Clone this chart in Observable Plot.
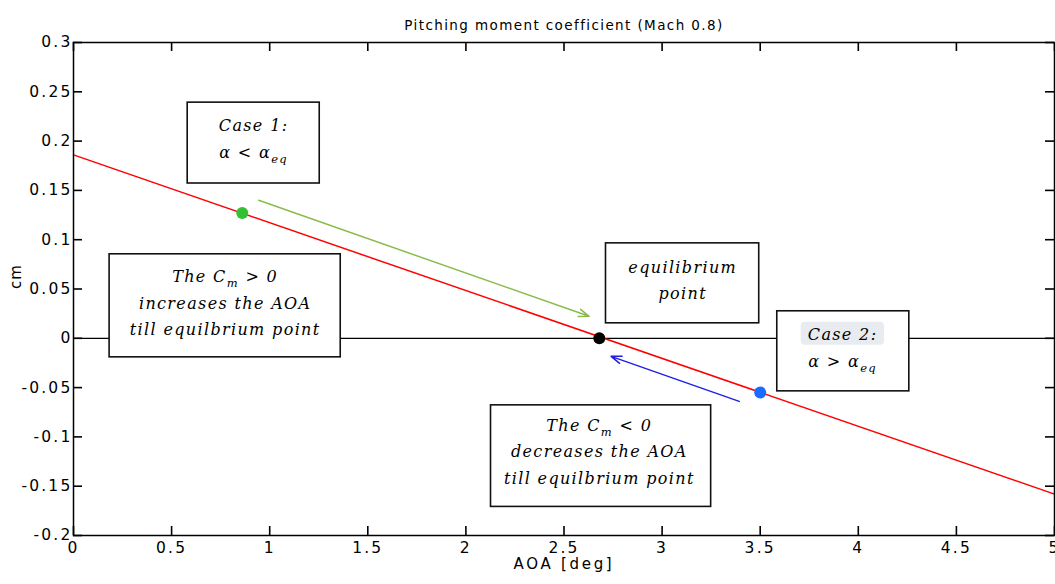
<!DOCTYPE html>
<html>
<head>
<meta charset="utf-8">
<script src="https://cdn.jsdelivr.net/npm/d3@7"></script>
<script src="https://cdn.jsdelivr.net/npm/@observablehq/plot@0.6"></script>
<style>
  html, body { margin: 0; padding: 0; background: #fff; }
  #chart { width: 1055px; height: 584px; }
  .notes text { letter-spacing: 1.35px; }
  .ttl text { letter-spacing: 1.4px; }
  .xlab text { letter-spacing: 2.7px; }
  .ylab text { letter-spacing: 1px; }
  g[aria-label="y-axis tick label"] text, g[aria-label="x-axis tick label"] text { letter-spacing: 2.2px; font-size: 15.5px; }
</style>
</head>
<body>
<div id="chart"></div>
<script>
// ---- data ----
const lineAOA = [0, 5];
const lineCm = [0.186, -0.158];

const pointAOA = [0.86, 2.68, 3.5];
const pointCm = [0.127, 0.0, -0.055];
const pointColor = ["#33c133", "#000000", "#1a6cff"];

const arrowX1 = [0.944, 3.393];
const arrowY1 = [0.140, -0.064];
const arrowX2 = [2.628, 2.740];
const arrowY2 = [0.0223, -0.0183];
const arrowColor = ["#8bbb4c", "#1f1fe6"];

const boxX1 = [0.582, 0.184, 2.714, 3.587, 2.128];
const boxX2 = [1.255, 1.362, 3.495, 4.260, 3.250];
const boxY1 = [0.157, -0.0193, 0.0152, -0.0538, -0.171];
const boxY2 = [0.239, 0.0852, 0.0963, 0.0274, -0.068];

const noteX = [0.918, 0.773, 3.105, 3.92, 2.68];
const noteY = [0.205, 0.0385, 0.0614, -0.007, -0.112];
const noteText = [
  "Case 1:\nα < α_{eq}",
  "The C_{m} > 0\nincreases the AOA\ntill equilbrium point",
  "equilibrium\npoint",
  "Case 2:\nα > α_{eq}",
  "The C_{m} < 0\ndecreases the AOA\ntill equilbrium point"
];

const highlightX = [3.709, 4.133];
const highlightY = [-0.0071, 0.0162];

const xTicks = [0, 0.5, 1, 1.5, 2, 2.5, 3, 3.5, 4, 4.5, 5];
const yTicks = [-0.2, -0.15, -0.1, -0.05, 0, 0.05, 0.1, 0.15, 0.2, 0.25, 0.3];

const titleText = "Pitching moment coefficient (Mach 0.8)";
const xLabel = "AOA [deg]";
const yLabel = "cm";

// ---- build tables ----
const W = 1055, H = 584, mL = 73, mR = 1, mT = 42, mB = 49, tickLen = 9;
const frameW = W - mL - mR, frameH = H - mT - mB;
const lineData = lineAOA.map((x, i) => ({x, y: lineCm[i]}));
const points = pointAOA.map((x, i) => ({x, y: pointCm[i], c: pointColor[i]}));
const arrows = arrowX1.map((x1, i) => ({x1, y1: arrowY1[i], x2: arrowX2[i], y2: arrowY2[i], c: arrowColor[i]}));
const boxes = boxX1.map((x1, i) => ({x1, x2: boxX2[i], y1: boxY1[i], y2: boxY2[i]}));
const notes = noteX.map((x, i) => ({x, y: noteY[i], t: noteText[i]}));
const fmt = d => String(d);

const plot = Plot.plot({
  width: W,
  height: H,
  marginLeft: mL,
  marginRight: mR,
  marginTop: mT,
  marginBottom: mB,
  style: {fontFamily: "DejaVu Sans", fontSize: "15px", color: "#000", background: "#fff"},
  x: {domain: [0, 5]},
  y: {domain: [-0.2, 0.3]},
  marks: [
    Plot.ruleY([0], {stroke: "#000", strokeWidth: 1.3}),
    Plot.line(lineData, {x: "x", y: "y", stroke: "#ff0000", strokeWidth: 1.5}),
    Plot.arrow(arrows, {x1: "x1", y1: "y1", x2: "x2", y2: "y2", stroke: "c", strokeWidth: 1.5, headLength: 11, headAngle: 40}),
    Plot.rect(boxes, {x1: "x1", x2: "x2", y1: "y1", y2: "y2", fill: "#fff", stroke: "#111", strokeWidth: 1.6}),
    Plot.rect([0], {x1: highlightX[0], x2: highlightX[1], y1: highlightY[0], y2: highlightY[1], fill: "#e8ebef", rx: 4}),
    Plot.text(notes, {x: "x", y: "y", text: "t", fontFamily: "DejaVu Serif", fontStyle: "italic", fontSize: 16, lineHeight: 1.65, fill: "#000", className: "notes"}),
    Plot.dot(points, {x: "x", y: "y", fill: "c", r: 6}),
    Plot.frame({stroke: "#000", strokeWidth: 1.5}),
    // tick labels
    Plot.axisY(yTicks, {anchor: "left", tickSize: 0, tickPadding: 1, tickFormat: fmt, label: null}),
    Plot.axisX(xTicks, {anchor: "bottom", tickSize: 0, tickPadding: 6, tickFormat: fmt, label: null}),
    // inward ticks on all four sides
    Plot.tickX(xTicks, {x: d => d, insetTop: frameH - tickLen, stroke: "#000", strokeWidth: 1.6}),
    Plot.tickX(xTicks, {x: d => d, insetBottom: frameH - tickLen, stroke: "#000", strokeWidth: 1.6}),
    Plot.tickY(yTicks, {y: d => d, insetRight: frameW - tickLen, stroke: "#000", strokeWidth: 1.6}),
    Plot.tickY(yTicks, {y: d => d, insetLeft: frameW - tickLen, stroke: "#000", strokeWidth: 1.6}),
    // titles
    Plot.text([titleText], {frameAnchor: "top", dy: -22, fontSize: 13.5, className: "ttl"}),
    Plot.text([xLabel], {frameAnchor: "bottom", dy: 33, fontSize: 15, className: "xlab"}),
    Plot.text([yLabel], {frameAnchor: "left", dx: -57, rotate: -90, fontSize: 15, className: "ylab"})
  ]
});

// subscripts: turn "X_{sub}" into a lowered, smaller tspan
plot.querySelectorAll(".notes tspan, .notes text").forEach(el => {
  if (el.children.length) return;
  const s = el.textContent;
  if (!s.includes("_{")) return;
  el.textContent = "";
  const parts = s.split(/_\{([^}]*)\}/);
  let shifted = false;
  parts.forEach((p, i) => {
    if (p === "") return;
    const t = document.createElementNS("http://www.w3.org/2000/svg", "tspan");
    t.textContent = p;
    if (i % 2 === 1) {
      t.setAttribute("dy", "5");
      t.setAttribute("font-size", "11.5");
      shifted = true;
    } else if (shifted) {
      t.setAttribute("dy", "-5");
      shifted = false;
    }
    el.appendChild(t);
  });
});

document.getElementById("chart").appendChild(plot);
</script>
</body>
</html>
